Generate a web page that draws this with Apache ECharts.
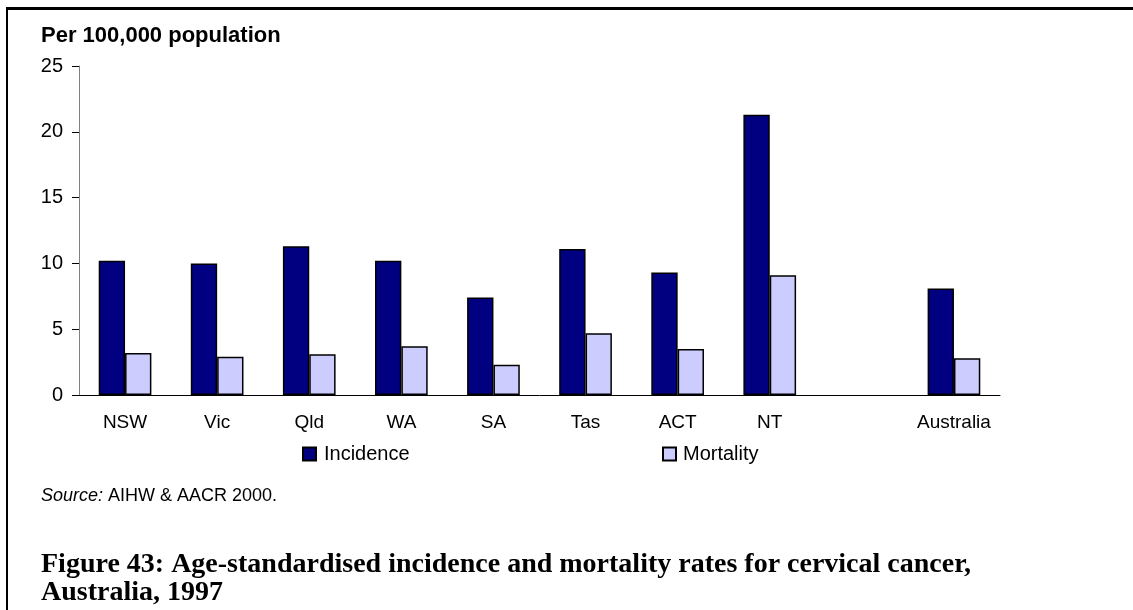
<!DOCTYPE html>
<html>
<head>
<meta charset="utf-8">
<script src="https://cdn.jsdelivr.net/npm/echarts@6/dist/echarts.min.js"></script>
<style>
  html, body { margin: 0; padding: 0; background: #fff; }
  #chart { width: 1133px; height: 610px; }
</style>
</head>
<body>
<div id="chart"></div>
<script>
// Age-standardised cervical cancer rates per 100,000 population, 1997
const categories = ['NSW', 'Vic', 'Qld', 'WA', 'SA', 'Tas', 'ACT', 'NT', '', 'Australia'];
const incidence  = [10.2, 10.0, 11.3, 10.2, 7.4, 11.1, 9.3, 21.3, null, 8.1];
const mortality  = [3.2, 2.9, 3.1, 3.7, 2.3, 4.7, 3.5, 9.1, null, 2.8];
const yTicks = { min: 0, max: 25, interval: 5 };

const sans = '"Liberation Sans", Arial, sans-serif';
const serif = '"Liberation Serif", "Times New Roman", serif';

const chart = echarts.init(document.getElementById('chart'), null, { renderer: 'canvas' });

chart.setOption({
  backgroundColor: '#ffffff',
  animation: false,
  title: [
    {
      text: 'Per 100,000 population',
      left: 41, top: 25, padding: 0,
      textStyle: { fontFamily: sans, fontSize: 22, fontWeight: 'bold', color: '#000' }
    },
    {
      text: '{i|Source:} AIHW & AACR 2000.',
      left: 41, top: 487, padding: 0,
      textStyle: {
        fontFamily: sans, fontSize: 18, fontWeight: 'normal', color: '#000',
        rich: { i: { fontFamily: sans, fontSize: 18, fontStyle: 'italic', fontWeight: 'normal', color: '#000' } }
      }
    },
    {
      text: 'Figure 43: Age-standardised incidence and mortality rates for cervical cancer,\nAustralia, 1997',
      left: 41, top: 551, padding: 0,
      textStyle: { fontFamily: serif, fontSize: 28, fontWeight: 'bold', color: '#000', lineHeight: 28 }
    }
  ],
  legend: [
    {
      data: ['Incidence'],
      left: 302, top: 444, padding: 0,
      icon: 'rect', itemWidth: 13, itemHeight: 13, itemGap: 0,
      textStyle: { fontFamily: sans, fontSize: 20, color: '#000', padding: [0, 0, 0, 3] }
    },
    {
      data: ['Mortality'],
      left: 662, top: 444, padding: 0,
      icon: 'rect', itemWidth: 13, itemHeight: 13, itemGap: 0,
      textStyle: { fontFamily: sans, fontSize: 20, color: '#000', padding: [0, 0, 0, 2] }
    }
  ],
  grid: { left: 79, right: 133, top: 66, bottom: 215, containLabel: false },
  xAxis: {
    type: 'category',
    data: categories,
    axisLine: { lineStyle: { color: '#000', width: 1 } },
    axisTick: { show: false },
    axisLabel: { fontFamily: sans, fontSize: 19, color: '#000', margin: 18, interval: 0 },
    splitLine: { show: false }
  },
  yAxis: {
    type: 'value',
    min: yTicks.min, max: yTicks.max, interval: yTicks.interval,
    axisLine: { show: true, lineStyle: { color: '#808080', width: 1 } },
    axisTick: { show: true, length: 7, inside: false, lineStyle: { color: '#000' } },
    axisLabel: { fontFamily: sans, fontSize: 20, color: '#000', margin: 16 },
    splitLine: { show: false }
  },
  series: [
    {
      name: 'Incidence',
      type: 'bar',
      data: incidence,
      barWidth: '28.6%',
      barGap: '0%',
      itemStyle: { color: '#000080', borderColor: '#000', borderWidth: 1.5 }
    },
    {
      name: 'Mortality',
      type: 'bar',
      data: mortality,
      barWidth: '28.6%',
      barGap: '0%',
      itemStyle: { color: '#ccccff', borderColor: '#000', borderWidth: 1.5 }
    }
  ],
  graphic: [
    // frame rules along the top and left edges
    { type: 'rect', shape: { x: 6, y: 7, width: 1127, height: 3 }, style: { fill: '#000' }, silent: true },
    { type: 'rect', shape: { x: 6, y: 7, width: 2, height: 603 }, style: { fill: '#000' }, silent: true }
  ]
});
</script>
</body>
</html>
